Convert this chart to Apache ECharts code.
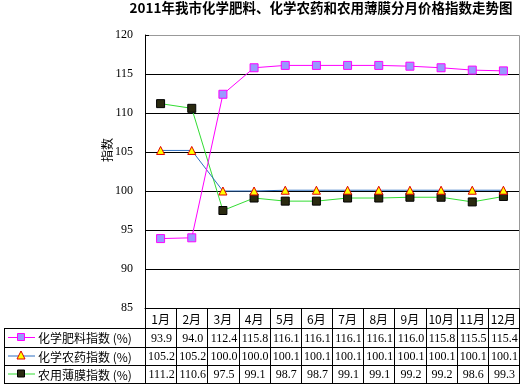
<!DOCTYPE html>
<html><head><meta charset="utf-8">
<script src="https://cdn.jsdelivr.net/npm/echarts@6/dist/echarts.min.js"></script>
<style>html,body{margin:0;padding:0;background:#fff}#c{width:526px;height:388px}</style>
</head><body><div id="c"></div>
<script>
const titleText = '2011年我市化学肥料、化学农药和农用薄膜分月价格指数走势图';
const yName = '指数';
const months = ['1月','2月','3月','4月','5月','6月','7月','8月','9月','10月','11月','12月'];
const seriesNames = ['化学肥料指数 (%)', '化学农药指数 (%)', '农用薄膜指数 (%)'];
const fertilizer = [93.9, 94.0, 112.4, 115.8, 116.1, 116.1, 116.1, 116.1, 116.0, 115.8, 115.5, 115.4];
const pesticide = [105.2, 105.2, 100.0, 100.0, 100.1, 100.1, 100.1, 100.1, 100.1, 100.1, 100.1, 100.1];
const film = [111.2, 110.6, 97.5, 99.1, 98.7, 98.7, 99.1, 99.1, 99.2, 99.2, 98.6, 99.3];
const yMin = 85, yMax = 120, yStep = 5;

const G = {left:145, top:35, right:519, bottom:308};
const rows = [308, 328, 347, 365, 383];
const colW = (G.right - G.left) / months.length;

const styles = [
  {line:'#ff00ff', symbol:'rect', fill:'#9999ff', border:'#ff00ff', size:8},
  {line:'#2f6fc0', symbol:'triangle', fill:'#ffff00', border:'#e00000', size:8},
  {line:'#33dd33', symbol:'rect', fill:'#2a2a10', border:'#000000', size:8}
];
const datas = [fertilizer, pesticide, film];

const chart = echarts.init(document.getElementById('c'), null, {renderer:'canvas'});

const gfx = [];
gfx.push({type:'text', x:321, y:8, style:{text:titleText, fill:'#000', font:'bold 13.5px "Noto Sans CJK SC"', textAlign:'center', textVerticalAlign:'middle'}});
gfx.push({type:'text', x:107, y:150, rotation:Math.PI/2, style:{text:yName, fill:'#000', font:'12px "Noto Sans CJK SC"', textAlign:'center', textVerticalAlign:'middle'}});
gfx.push({type:'polyline', shape:{points:[[G.left,G.top+0.5],[G.right+0.5,G.top+0.5],[G.right+0.5,G.bottom]]}, style:{stroke:'#999', lineWidth:1, fill:null}});
gfx.push({type:'line', shape:{x1:G.left, y1:rows[0]+0.5, x2:G.right+1, y2:rows[0]+0.5}, style:{stroke:'#000', lineWidth:1}});
for (let r = 1; r < rows.length; r++) {
  gfx.push({type:'line', shape:{x1:4, y1:rows[r]+0.5, x2:G.right+1, y2:rows[r]+0.5}, style:{stroke:'#000', lineWidth:1}});
}
gfx.push({type:'line', shape:{x1:4.5, y1:rows[1], x2:4.5, y2:rows[4]+1}, style:{stroke:'#000', lineWidth:1}});
for (let i = 0; i <= months.length; i++) {
  const x = Math.round(G.left + colW*i) + 0.5;
  gfx.push({type:'line', shape:{x1:x, y1:rows[0], x2:x, y2:rows[4]+1}, style:{stroke:'#000', lineWidth:1}});
}
months.forEach((m, i) => {
  gfx.push({type:'text', x:G.left + colW*(i+0.5), y:(rows[0]+rows[1])/2+1, style:{text:m, fill:'#000', font:'12px "Noto Sans CJK SC"', textAlign:'center', textVerticalAlign:'middle'}});
});
datas.forEach((arr, s) => {
  const yc = (rows[s+1]+rows[s+2])/2 + 1;
  arr.forEach((v, i) => {
    gfx.push({type:'text', x:G.left + colW*(i+0.5)+1, y:yc, style:{text:v.toFixed(1), fill:'#000', font:'12px "Liberation Serif"', textAlign:'center', textVerticalAlign:'middle'}});
  });
  const st = styles[s];
  gfx.push({type:'line', shape:{x1:8, y1:yc-1, x2:35, y2:yc-1}, style:{stroke:st.line, lineWidth:1}});
  if (st.symbol === 'rect') {
    gfx.push({type:'rect', shape:{x:17.5, y:yc-5, width:7, height:7}, style:{fill:st.fill, stroke:st.border, lineWidth:1}});
  } else {
    gfx.push({type:'polygon', shape:{points:[[21,yc-6],[25,yc+2],[17,yc+2]]}, style:{fill:st.fill, stroke:st.border, lineWidth:1}});
  }
  gfx.push({type:'text', x:38, y:yc, style:{text:seriesNames[s], fill:'#000', font:'12px "Noto Sans CJK SC"', textAlign:'left', textVerticalAlign:'middle'}});
});

const splitColors = [];
for (let v = yMin; v <= yMax; v += yStep) splitColors.push(v === yMax ? '#999' : '#000');

chart.setOption({
  animation:false,
  backgroundColor:'#fff',
  grid:{left:G.left, top:G.top, width:G.right-G.left, height:G.bottom-G.top, containLabel:false},
  xAxis:{type:'category', data:months, boundaryGap:true,
    axisLine:{show:true, lineStyle:{color:'#000'}}, axisTick:{show:false}, axisLabel:{show:false}, splitLine:{show:false}},
  yAxis:{type:'value', min:yMin, max:yMax, interval:yStep,
    axisLine:{show:true, lineStyle:{color:'#000'}},
    axisTick:{show:true, inside:true, length:4, lineStyle:{color:'#000'}},
    axisLabel:{color:'#000', fontSize:12, fontFamily:'Liberation Serif', margin:12},
    splitLine:{show:true, lineStyle:{color:splitColors, width:1}}},
  series: datas.map((arr, s) => ({
    type:'line', name:seriesNames[s], data:arr, symbol:styles[s].symbol, symbolSize:styles[s].size,
    showAllSymbol:true,
    lineStyle:{color:styles[s].line, width:1},
    itemStyle:{color:styles[s].fill, borderColor:styles[s].border, borderWidth:1},
    z: 3 - s
  })),
  graphic: gfx
});
</script></body></html>
